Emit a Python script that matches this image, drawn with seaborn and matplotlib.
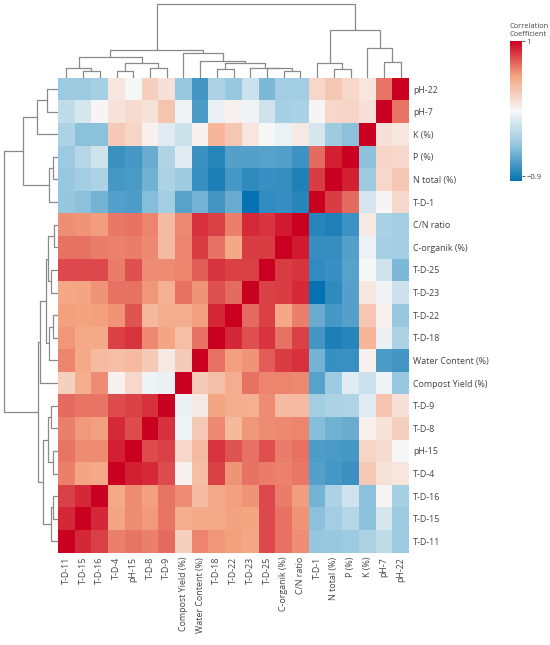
import numpy as np
import pandas as pd
import seaborn as sns
import matplotlib.pyplot as plt
from matplotlib.colors import LinearSegmentedColormap

labels = ["T-D-11", "T-D-15", "T-D-16", "T-D-4", "pH-15", "T-D-8", "T-D-9",
          "Compost Yield (%)", "Water Content (%)", "T-D-18", "T-D-22", "T-D-23",
          "T-D-25", "C-organik (%)", "C/N ratio", "T-D-1", "N total (%)", "P (%)",
          "K (%)", "pH-7", "pH-22"]

# lower triangle of the correlation matrix, diagonal included
lower = [
    [1.00],
    [0.88, 1.00],
    [0.80, 0.88, 1.00],
    [0.62, 0.50, 0.48, 1.00],
    [0.65, 0.58, 0.58, 0.90, 1.00],
    [0.62, 0.54, 0.52, 0.87, 0.77, 1.00],
    [0.68, 0.65, 0.65, 0.77, 0.80, 0.85, 1.00],
    [0.25, 0.46, 0.58, 0.05, 0.20, -0.03, -0.05, 1.00],
    [0.60, 0.48, 0.37, 0.36, 0.38, 0.29, 0.10, 0.28, 1.00],
    [0.55, 0.48, 0.48, 0.80, 0.84, 0.59, 0.50, 0.35, 0.66, 1.00],
    [0.52, 0.51, 0.52, 0.56, 0.75, 0.39, 0.45, 0.45, 0.52, 0.88, 1.00],
    [0.49, 0.50, 0.56, 0.66, 0.66, 0.55, 0.44, 0.66, 0.56, 0.76, 0.68, 1.00],
    [0.78, 0.78, 0.78, 0.63, 0.76, 0.58, 0.58, 0.60, 0.72, 0.84, 0.80, 0.80, 1.00],
    [0.66, 0.66, 0.63, 0.61, 0.63, 0.59, 0.37, 0.60, 0.82, 0.66, 0.49, 0.82, 0.82, 1.00],
    [0.57, 0.56, 0.53, 0.64, 0.66, 0.60, 0.37, 0.59, 0.85, 0.80, 0.62, 0.87, 0.84, 0.92, 1.00],
    [-0.46, -0.50, -0.58, -0.69, -0.71, -0.52, -0.40, -0.68, -0.58, -0.75, -0.62, -0.97, -0.81, -0.80, -0.85, 1.00],
    [-0.45, -0.40, -0.35, -0.74, -0.73, -0.59, -0.35, -0.42, -0.79, -0.88, -0.74, -0.82, -0.79, -0.80, -0.87, 0.82, 1.00],
    [-0.43, -0.31, -0.18, -0.78, -0.74, -0.62, -0.33, -0.10, -0.78, -0.85, -0.69, -0.69, -0.68, -0.69, -0.77, 0.68, 0.90, 1.00],
    [-0.35, -0.50, -0.50, 0.29, 0.22, 0.06, -0.10, -0.20, 0.06, 0.40, 0.30, 0.12, 0.01, -0.04, 0.10, -0.15, -0.41, -0.50, 1.00],
    [-0.25, -0.15, 0.03, 0.14, 0.18, 0.14, 0.32, -0.03, -0.72, -0.05, 0.06, -0.02, -0.18, -0.38, -0.36, 0.03, 0.20, 0.22, 0.15, 1.00],
    [-0.43, -0.43, -0.38, 0.12, 0.00, 0.25, 0.15, -0.45, -0.75, -0.35, -0.45, -0.20, -0.55, -0.40, -0.40, 0.20, 0.30, 0.20, 0.12, 0.65, 1.00],
]

# dendrogram merges: [child a, child b, height]
col_merges = [
    [1, 2, 20], [0, 21, 30], [3, 4, 20], [5, 6, 30], [23, 24, 45], [22, 25, 61],
    [13, 14, 20], [12, 27, 29], [11, 28, 30], [9, 10, 26], [30, 29, 44],
    [8, 31, 50], [7, 32, 75], [26, 33, 83],
    [16, 17, 25], [15, 35, 43], [19, 20, 48], [18, 37, 88], [36, 38, 143],
    [34, 39, 220],
]
row_merges = [
    [20, 19, 11.3], [21, 18, 21.3], [17, 16, 4.7], [23, 15, 8.7], [22, 24, 35.3],
    [14, 13, 4.0], [12, 11, 7.3], [26, 27, 9.7], [10, 9, 4.7], [29, 8, 8.7],
    [28, 30, 12.0], [31, 7, 18.0],
    [6, 5, 7.3], [4, 3, 4.7], [33, 34, 10.3], [2, 1, 4.7], [36, 0, 7.3],
    [35, 37, 14.7], [32, 38, 20.3], [25, 39, 53.7],
]


def to_linkage(merges, n):
    sizes = [1] * n
    Z = []
    for a, b, h in merges:
        s = sizes[a] + sizes[b]
        sizes.append(s)
        Z.append([a, b, h, s])
    return np.array(Z, dtype=float)


n = len(labels)
corr = np.eye(n)
for i, row in enumerate(lower):
    corr[i, :i + 1] = row
    corr[:i + 1, i] = row
df = pd.DataFrame(corr, index=labels, columns=labels)

sns.set_theme(style="white")
plt.rcParams['font.family'] = ['Open Sans', 'DejaVu Sans']

cmap = LinearSegmentedColormap.from_list(
    "rdbu5", ["#0571b0", "#92c5de", "#f7f7f7", "#f4a582", "#ca0020"])

g = sns.clustermap(df, row_linkage=to_linkage(row_merges, n),
                   col_linkage=to_linkage(col_merges, n),
                   cmap=cmap, vmin=-0.97, vmax=1.0,
                   xticklabels=True, yticklabels=True,
                   figsize=(5.5, 6.45),
                   tree_kws={"colors": "#8a8a8a", "linewidths": 0.9},
                   cbar_kws={"ticks": [-0.9, 1]})

fig = g.fig
W, H = 550, 645
hm_l, hm_r, hm_t, hm_b = 58, 409, 77.7, 552.7
g.ax_heatmap.set_position([hm_l / W, 1 - hm_b / H, (hm_r - hm_l) / W, (hm_b - hm_t) / H])
g.ax_row_dendrogram.set_position([1.6 / W, 1 - hm_b / H, (hm_l - 1.6) / W, (hm_b - hm_t) / H])
g.ax_col_dendrogram.set_position([hm_l / W, 1 - hm_t / H, (hm_r - hm_l) / W, (hm_t - 0.7) / H])
g.ax_cbar.set_position([510 / W, 1 - 181 / H, 12 / W, 140 / H])

ax = g.ax_heatmap
ax.set_xlabel("")
ax.set_ylabel("")
ax.tick_params(axis="both", length=0, labelsize=6.4, colors="#444444")
ax.tick_params(axis="x", pad=3)
ax.tick_params(axis="y", pad=3)
plt.setp(ax.get_xticklabels(), rotation=90)
plt.setp(ax.get_yticklabels(), rotation=0)

cax = g.ax_cbar
cax.set_yticklabels(["\u22120.9", "1"])
cax.tick_params(length=2, width=0.6, labelsize=5.6, colors="#444444", pad=1)
for s in cax.spines.values():
    s.set_visible(False)
cax.text(-0.05, 1.02, "Correlation\nCoefficient", transform=cax.transAxes,
         ha="left", va="bottom", fontsize=5.4, color="#444444", linespacing=1.15)

plt.savefig("out.png", dpi=100)
